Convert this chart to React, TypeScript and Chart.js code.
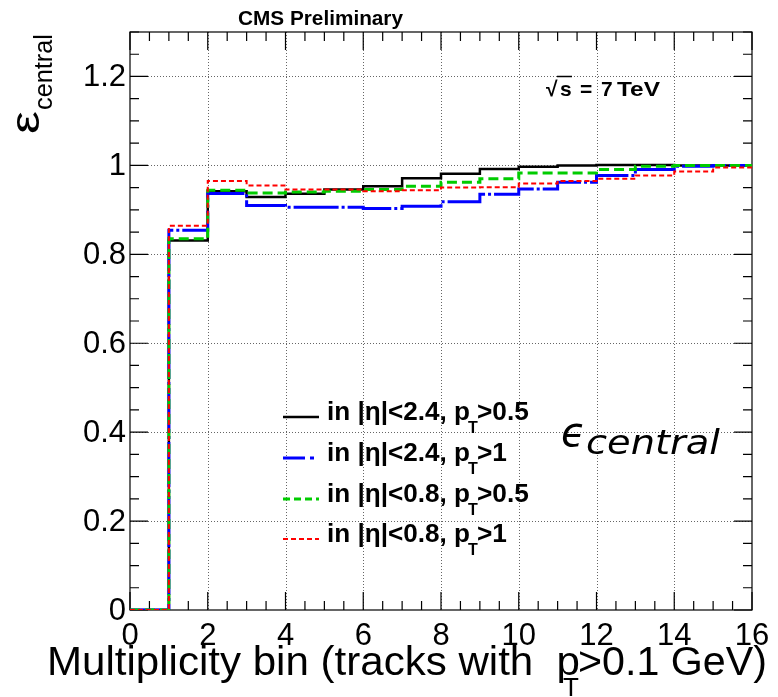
import React, { useEffect, useRef } from 'react';
import { Chart, registerables } from 'chart.js';

Chart.register(...registerables);

// Histogram bin low edges (16 bins from 0 to 16)
const binEdges = [0, 1, 2, 3, 4, 5, 6, 7, 8, 9, 10, 11, 12, 13, 14, 15, 16];

// Efficiency per bin
const blackVals = [0, 0.831, 0.942, 0.929, 0.936, 0.946, 0.953, 0.971, 0.981, 0.992, 0.997, 1.0, 1.001, 1.001, 1.0, 1.0];
const blueVals = [0, 0.854, 0.937, 0.910, 0.906, 0.906, 0.903, 0.908, 0.918, 0.935, 0.947, 0.962, 0.977, 0.991, 0.998, 1.0];
const greenVals = [0, 0.835, 0.944, 0.938, 0.940, 0.942, 0.946, 0.953, 0.962, 0.970, 0.983, 0.983, 0.991, 0.998, 1.0, 1.0];
const redVals = [0, 0.864, 0.965, 0.955, 0.946, 0.946, 0.942, 0.944, 0.950, 0.951, 0.959, 0.965, 0.970, 0.977, 0.986, 0.995];

const legendMain = ['in |η|<2.4, p', 'in |η|<2.4, p', 'in |η|<0.8, p', 'in |η|<0.8, p'];
const legendTail = ['>0.5', '>1', '>0.5', '>1'];

const xTickValues = [0, 2, 4, 6, 8, 10, 12, 14, 16];
const xTickLabels = ['0', '2', '4', '6', '8', '10', '12', '14', '16'];
const yTickValues = [0, 0.2, 0.4, 0.6, 0.8, 1.0, 1.2];
const yTickLabels = ['0', '0.2', '0.4', '0.6', '0.8', '1', '1.2'];

const X_MIN = 0;
const X_MAX = 16;
const Y_MIN = 0;
const Y_MAX = 1.3;
const X_MINOR = 0.5;
const Y_MINOR = 0.05;

const seriesStyles = [
  { color: '#000000', width: 2.5, dash: [] as number[], legendDash: [] as number[], order: 4 },
  { color: '#0000ff', width: 3, dash: [45, 3, 3, 3], legendDash: [22, 5, 4, 20], order: 3 },
  { color: '#00cc00', width: 3, dash: [10, 5], legendDash: [7, 4], order: 2 },
  { color: '#ff0000', width: 2, dash: [5, 3], legendDash: [5, 3], order: 1 },
];

const allVals = [blackVals, blueVals, greenVals, redVals];

function toPoints(vals: number[]) {
  const pts = vals.map((v, i) => ({ x: binEdges[i], y: v }));
  pts.push({ x: binEdges[vals.length], y: vals[vals.length - 1] });
  return pts;
}

function fitText(ctx: CanvasRenderingContext2D, text: string, x: number, y: number, w: number) {
  const m = ctx.measureText(text).width;
  ctx.save();
  ctx.translate(x, y);
  ctx.scale(w / m, 1);
  ctx.fillText(text, 0, 0);
  ctx.restore();
}

const decorPlugin = {
  id: 'rootDecor',
  beforeDatasetsDraw(chart: any) {
    const ctx: CanvasRenderingContext2D = chart.ctx;
    const xs = chart.scales.x;
    const ys = chart.scales.y;
    const { left, right, top, bottom } = chart.chartArea;

    ctx.save();
    // dotted grid
    ctx.strokeStyle = '#666';
    ctx.lineWidth = 1;
    ctx.setLineDash([1, 2]);
    for (const v of xTickValues) {
      if (v === X_MIN || v === X_MAX) continue;
      const px = Math.round(xs.getPixelForValue(v)) + 0.5;
      ctx.beginPath();
      ctx.moveTo(px, top);
      ctx.lineTo(px, bottom);
      ctx.stroke();
    }
    for (const v of yTickValues) {
      if (v === Y_MIN) continue;
      const py = Math.round(ys.getPixelForValue(v)) + 0.5;
      ctx.beginPath();
      ctx.moveTo(left, py);
      ctx.lineTo(right, py);
      ctx.stroke();
    }
    ctx.setLineDash([]);

    // frame
    ctx.strokeStyle = '#000';
    ctx.lineWidth = 1.2;
    ctx.strokeRect(left, top, right - left, bottom - top);

    // ticks
    const major = 18;
    const minor = 9;
    ctx.lineWidth = 1.2;
    const nx = Math.round((X_MAX - X_MIN) / X_MINOR);
    for (let i = 0; i <= nx; i++) {
      const v = X_MIN + i * X_MINOR;
      const isMajor = xTickValues.some((t) => Math.abs(t - v) < 1e-9);
      const len = isMajor ? major : minor;
      const px = xs.getPixelForValue(v);
      ctx.beginPath();
      ctx.moveTo(px, bottom);
      ctx.lineTo(px, bottom - len);
      ctx.moveTo(px, top);
      ctx.lineTo(px, top + len);
      ctx.stroke();
    }
    const ny = Math.round((Y_MAX - Y_MIN) / Y_MINOR);
    for (let i = 0; i <= ny; i++) {
      const v = Y_MIN + i * Y_MINOR;
      const isMajor = yTickValues.some((t) => Math.abs(t - v) < 1e-9);
      const len = isMajor ? major : minor;
      const py = ys.getPixelForValue(v);
      ctx.beginPath();
      ctx.moveTo(left, py);
      ctx.lineTo(left + len, py);
      ctx.moveTo(right, py);
      ctx.lineTo(right - len, py);
      ctx.stroke();
    }

    // tick labels
    ctx.fillStyle = '#000';
    ctx.font = '31px "Liberation Sans", Arial, sans-serif';
    ctx.textAlign = 'center';
    ctx.textBaseline = 'alphabetic';
    xTickValues.forEach((v, i) => {
      ctx.fillText(xTickLabels[i], xs.getPixelForValue(v), bottom + 35);
    });
    ctx.textAlign = 'right';
    ctx.textBaseline = 'middle';
    yTickValues.forEach((v, i) => {
      ctx.fillText(yTickLabels[i], left - 4, ys.getPixelForValue(v) + 1);
    });

    // x axis title
    ctx.textAlign = 'left';
    ctx.textBaseline = 'alphabetic';
    ctx.font = '40px "Liberation Sans", Arial, sans-serif';
    fitText(ctx, 'Multiplicity bin (tracks with  p', 47, 675, 533);
    fitText(ctx, '>0.1 GeV)', 578, 675, 189);
    ctx.font = '26px "Liberation Sans", Arial, sans-serif';
    ctx.fillText('T', 563, 696);

    // y axis title
    ctx.save();
    ctx.translate(39, 134);
    ctx.rotate(-Math.PI / 2);
    ctx.font = '40px "Liberation Sans", Arial, sans-serif';
    fitText(ctx, 'ε', 0, 0, 23);
    ctx.font = '25px "Liberation Sans", Arial, sans-serif';
    fitText(ctx, 'central', 24, 13, 76);
    ctx.restore();

    // CMS Preliminary
    ctx.font = 'bold 20px "Liberation Sans", Arial, sans-serif';
    fitText(ctx, 'CMS Preliminary', 238, 25, 165);

    // sqrt(s) = 7 TeV
    ctx.font = 'bold 21px "Liberation Sans", Arial, sans-serif';
    ctx.fillText('√', 546, 96);
    ctx.fillText('s', 560, 96);
    ctx.fillText('=', 580, 96);
    ctx.fillText('7', 601, 96);
    fitText(ctx, 'TeV', 617, 96, 43);
    ctx.lineWidth = 1.5;
    ctx.beginPath();
    ctx.moveTo(557, 76.5);
    ctx.lineTo(572, 76.5);
    ctx.stroke();

    // legend
    const rowY = [417, 458, 499, 539];
    seriesStyles.forEach((s, i) => {
      ctx.save();
      ctx.strokeStyle = s.color;
      ctx.lineWidth = s.width;
      ctx.setLineDash(s.legendDash);
      ctx.beginPath();
      ctx.moveTo(283, rowY[i]);
      ctx.lineTo(319, rowY[i]);
      ctx.stroke();
      ctx.restore();
      ctx.fillStyle = '#000';
      ctx.font = 'bold 25px "Liberation Sans", Arial, sans-serif';
      fitText(ctx, legendMain[i], 327, rowY[i] + 3, 143);
      ctx.font = 'bold 16px "Liberation Sans", Arial, sans-serif';
      ctx.fillText('T', 468, rowY[i] + 16);
      ctx.font = 'bold 25px "Liberation Sans", Arial, sans-serif';
      const tw = ctx.measureText(legendTail[i]).width;
      fitText(ctx, legendTail[i], 477, rowY[i] + 3, tw * 1.05);
    });

    // epsilon_central annotation
    ctx.font = 'oblique 40px "DejaVu Sans", sans-serif';
    ctx.fillText('ϵ', 561, 446);
    ctx.font = 'oblique 34px "DejaVu Sans", sans-serif';
    fitText(ctx, 'central', 586, 454, 134);

    ctx.restore();
  },
};

export default function App() {
  const canvasRef = useRef<HTMLCanvasElement | null>(null);

  useEffect(() => {
    if (!canvasRef.current) return;
    const chart = new Chart(canvasRef.current, {
      type: 'line',
      data: {
        datasets: allVals.map((vals, i) => ({
          label: legendMain[i] + legendTail[i],
          data: toPoints(vals),
          borderColor: seriesStyles[i].color,
          borderWidth: seriesStyles[i].width,
          borderDash: seriesStyles[i].dash,
          stepped: 'before' as const,
          pointRadius: 0,
          fill: false,
          tension: 0,
          order: seriesStyles[i].order,
        })),
      },
      options: {
        animation: false,
        responsive: false,
        devicePixelRatio: 1,
        layout: { padding: { left: 130, right: 26, top: 32, bottom: 87 } },
        plugins: {
          legend: { display: false },
          tooltip: { enabled: false },
          title: { display: false },
        },
        scales: {
          x: { type: 'linear', min: X_MIN, max: X_MAX, display: false },
          y: { type: 'linear', min: Y_MIN, max: Y_MAX, display: false },
        },
      },
      plugins: [decorPlugin],
    });
    return () => chart.destroy();
  }, []);

  return (
    <div style={{ position: 'absolute', left: 0, top: 0, width: 778, height: 697, background: '#fff' }}>
      <canvas ref={canvasRef} width={778} height={697} />
    </div>
  );
}
